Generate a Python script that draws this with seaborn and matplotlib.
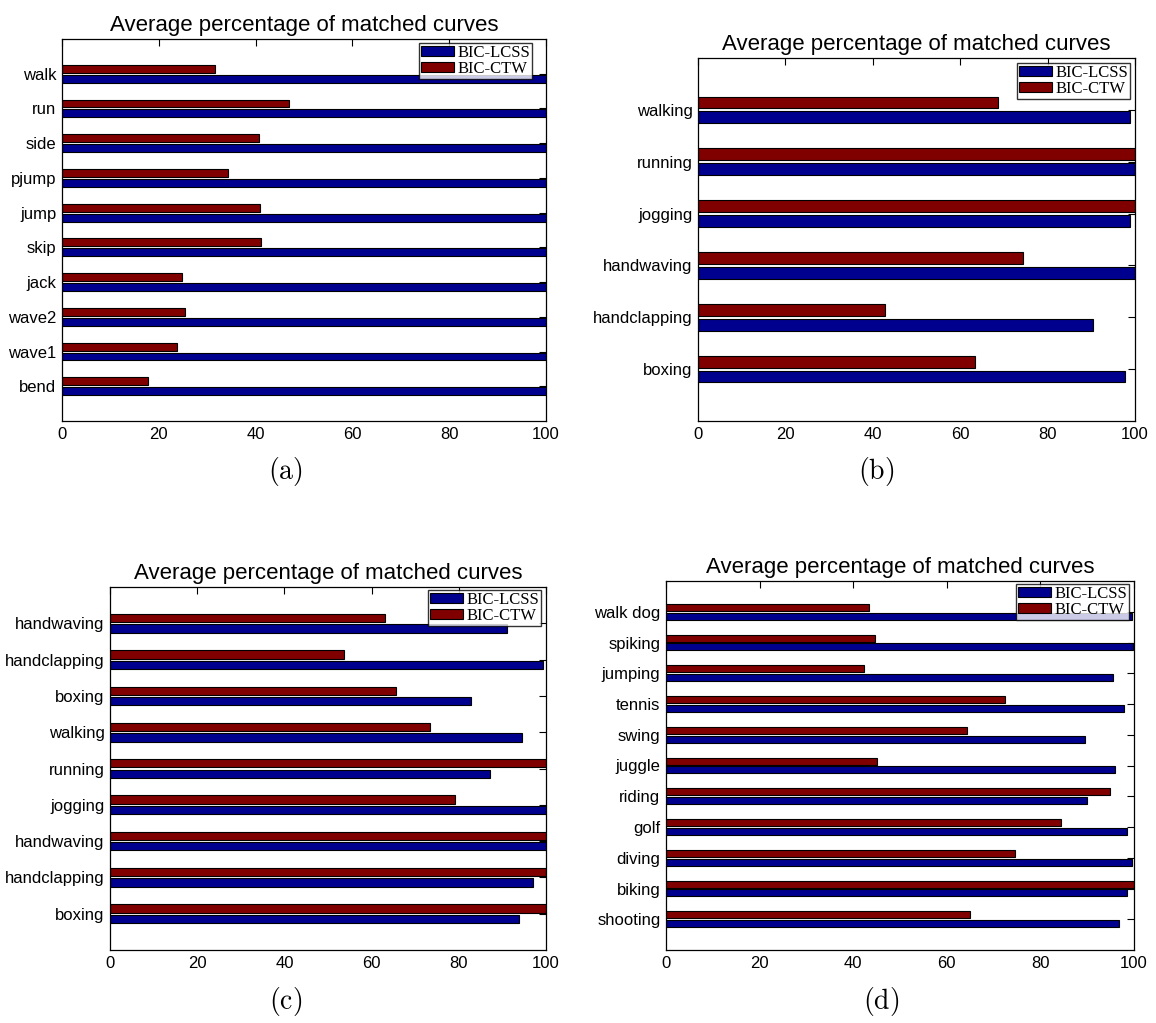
import numpy as np
import pandas as pd
import matplotlib
matplotlib.use("Agg")
import matplotlib.pyplot as plt
from matplotlib.patches import Patch
import seaborn as sns

# ---------------- data ----------------
series_names = ["BIC-LCSS", "BIC-CTW"]
series_colors = ["#00008F", "#800000"]
chart_title = "Average percentage of matched curves"
x_ticks = [0, 20, 40, 60, 80, 100]

# (a) categories listed top to bottom
cats_a = ["walk", "run", "side", "pjump", "jump", "skip", "jack", "wave2", "wave1", "bend"]
lcss_a = [100, 100, 100, 100, 100, 100, 100, 100, 100, 100]
ctw_a = [31.6, 46.8, 40.7, 34.2, 40.9, 41.1, 24.8, 25.5, 23.7, 17.8]

# (b)
cats_b = ["walking", "running", "jogging", "handwaving", "handclapping", "boxing"]
lcss_b = [98.8, 100, 98.8, 100, 90.3, 97.8]
ctw_b = [68.7, 100, 100, 74.4, 42.7, 63.3]

# (c)
cats_c = ["handwaving", "handclapping", "boxing", "walking", "running", "jogging",
          "handwaving", "handclapping", "boxing"]
lcss_c = [91.0, 99.3, 82.7, 94.6, 87.2, 100, 100, 97.0, 93.8]
ctw_c = [63.1, 53.7, 65.6, 73.3, 100, 79.2, 100, 100, 100]

# (d)
cats_d = ["walk dog", "spiking", "jumping", "tennis", "swing", "juggle", "riding",
          "golf", "diving", "biking", "shooting"]
lcss_d = [99.5, 99.8, 95.5, 97.9, 89.5, 96.0, 90.0, 98.6, 99.5, 98.5, 96.9]
ctw_d = [43.4, 44.6, 42.4, 72.4, 64.3, 45.0, 94.8, 84.4, 74.6, 100, 64.9]

panel_tags = ["(a)", "(b)", "(c)", "(d)"]

# ---------------- layout (pixels in a 1156x1023 canvas) ----------------
W, H = 1156, 1023
# left, right, top, bottom of each axes box
axes_px = [(62, 546, 39, 421), (698, 1135, 58, 421),
           (110, 546, 587, 950), (666, 1134, 581, 950)]
legend_gap_px = [(14, 4), (5, 5), (5, 3), (5, 3)]
tag_px = [(285, 472), (876, 472), (286, 1001), (881, 1001)]

sns.set_style("white")
plt.rcParams["font.family"] = ["Liberation Sans", "DejaVu Sans"]
plt.rcParams["mathtext.fontset"] = "cm"
plt.rcParams["text.color"] = "black"
plt.rcParams["axes.labelcolor"] = "black"
plt.rcParams["xtick.color"] = "black"
plt.rcParams["ytick.color"] = "black"

fig = plt.figure(figsize=(W / 100, H / 100), dpi=100)

panels = [(cats_a, lcss_a, ctw_a), (cats_b, lcss_b, ctw_b),
          (cats_c, lcss_c, ctw_c), (cats_d, lcss_d, ctw_d)]

for k, ((cats, lcss, ctw), (l, r, t, b)) in enumerate(zip(panels, axes_px)):
    n = len(cats)
    pos = np.arange(n, 0, -1)  # first category sits at the top
    df = pd.DataFrame({
        "pos": np.concatenate([pos, pos]),
        "value": np.concatenate([lcss, ctw]),
        "method": [series_names[0]] * n + [series_names[1]] * n,
    })
    ax = fig.add_axes([l / W, 1 - b / H, (r - l) / W, (b - t) / H])
    sns.barplot(data=df, x="value", y="pos", hue="method", hue_order=series_names,
                palette=series_colors, orient="y", native_scale=True,
                width=0.571, gap=0.2, errorbar=None, edgecolor="black",
                linewidth=0.8, saturation=1, legend=False, ax=ax)
    ax.set_xlim(0, 100)
    ax.set_ylim(0, n + 1)
    ax.set_xticks(x_ticks)
    ax.set_xticklabels([str(v) for v in x_ticks])
    ax.set_yticks(pos)
    ax.set_yticklabels(cats)
    ax.set_xlabel("")
    ax.set_ylabel("")
    ax.tick_params(axis="both", direction="in", length=5, width=0.8,
                   labelsize=12, colors="black", top=True, right=True, pad=4)
    for sp in ax.spines.values():
        sp.set_visible(True)
        sp.set_color("black")
        sp.set_linewidth(0.9)
    ax.set_title(chart_title, fontsize=16, pad=6, color="black")

    gx, gy = legend_gap_px[k]
    handles = [Patch(facecolor=c, edgecolor="black", linewidth=0.8)
               for c in series_colors]
    leg = ax.legend(handles, series_names, loc="upper right",
                    bbox_to_anchor=(1 - gx / (r - l), 1 - gy / (b - t)),
                    borderaxespad=0, frameon=True, fancybox=False,
                    prop={"family": ["Liberation Serif", "DejaVu Serif"], "size": 12},
                    labelspacing=0.0, borderpad=0.12, handlelength=2.0,
                    handleheight=0.6, handletextpad=0.2)
    leg.get_frame().set_edgecolor("black")
    leg.get_frame().set_linewidth(1.0)

    tx, ty = tag_px[k]
    fig.text(tx / W, 1 - ty / H, r"$\mathrm{" + panel_tags[k] + "}$",
             ha="center", va="center", fontsize=20)

fig.savefig("out.png", dpi=100)
